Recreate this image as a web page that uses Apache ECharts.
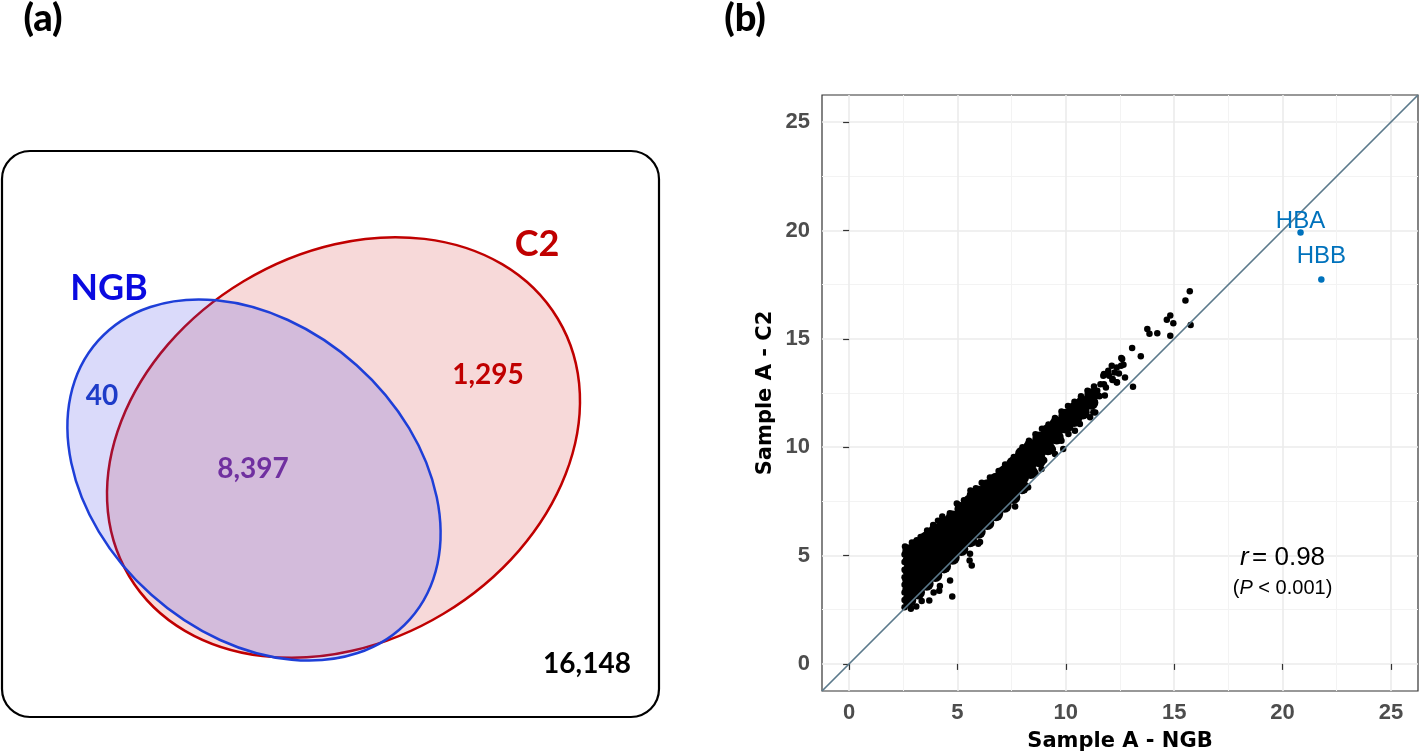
<!DOCTYPE html>
<html><head><meta charset="utf-8">
<script src="https://cdn.jsdelivr.net/npm/echarts@6/dist/echarts.min.js"></script>
<style>html,body{margin:0;padding:0;background:#fff}#c{width:1419px;height:754px}</style>
</head><body><div id="c"></div>
<script>
// ---------- data ----------
const panelLabels = ['(a)', '(b)'];
const vennSets = ['NGB', 'C2'];
const vennRegions = ['NGB only', 'NGB and C2', 'C2 only', 'neither'];
const vennCounts = [40, 8397, 1295, 16148];

const xTicks = [0, 5, 10, 15, 20, 25];
const yTicks = [0, 5, 10, 15, 20, 25];
const minorTicks = [2.5, 7.5, 12.5, 17.5, 22.5];
const axisMin = -1.25, axisMax = 26.25;
const xTitle = 'Sample A - NGB';
const yTitle = 'Sample A - C2';

// dense body of the cloud, read column by column: [x, [y values]]
const denseCols = [
  [2.78, [2.95, 3.4, 3.85, 4.3, 4.75, 5.2]],
  [3.18, [3.3, 3.75, 4.2, 4.65, 5.1, 5.5]],
  [3.58, [3.7, 4.15, 4.6, 5.05, 5.5, 5.8]],
  [3.98, [4.1, 4.55, 5.0, 5.45, 5.9, 6.15]],
  [4.38, [4.5, 4.95, 5.4, 5.85, 6.3, 6.5]],
  [4.78, [4.9, 5.35, 5.8, 6.25, 6.75]],
  [5.18, [5.3, 5.75, 6.2, 6.65, 7.15]],
  [5.58, [5.7, 6.15, 6.6, 7.05, 7.5]],
  [5.98, [6.1, 6.55, 7.0, 7.45, 7.9]],
  [6.38, [6.5, 6.95, 7.4, 7.85, 8.2]],
  [6.78, [6.9, 7.35, 7.8, 8.25, 8.5]],
  [7.18, [7.3, 7.75, 8.2, 8.65, 8.85]],
  [7.58, [7.7, 8.15, 8.6, 9.05, 9.25]],
  [7.98, [8.15, 8.6, 9.05, 9.5, 9.7]],
  [8.38, [8.85, 9.3, 9.75, 10.05]],
  [8.78, [9.4, 9.8, 10.1, 10.4]],
  [9.18, [9.95, 10.35, 10.75]],
  [9.58, [10.45, 10.8, 11.1]],
  [9.98, [10.95, 11.2, 11.45]],
  [10.38, [11.25, 11.5, 11.75]],
  [10.78, [11.6, 11.85, 12.05]],
  [11.18, [12.05, 12.4]]
];
const leftEdgePoints = [[2.56,2.62],[2.56,2.95],[2.56,3.3],[2.56,3.65],[2.56,4.0],[2.56,4.35],[2.56,4.7],[2.56,5.05],[2.58,5.42]];
const upperEdgePoints = [[2.9,5.6],[3.12,5.7],[3.3,5.85],[3.6,6.15],[3.88,6.41],[4.1,6.6],[4.3,6.8],[4.65,6.95],[4.97,7.4],[5.04,7.34],[5.3,7.55],[5.58,7.81],[5.6,8.0],[5.85,8.1],[6.12,8.36],[6.5,8.6],[6.9,8.9],[7.2,9.2],[7.6,9.55],[8.0,10.0],[8.3,10.3],[8.6,10.6],[8.9,10.85],[9.2,11.05],[9.5,11.35],[9.8,11.65],[10.1,11.9],[10.4,12.1],[10.7,12.35],[11.0,12.6],[11.3,12.8]];
const lowerEdgePoints = [[2.85,2.55],[3.1,2.65],[3.35,2.9],[3.7,2.92],[3.9,3.3],[4.16,3.38],[4.19,3.6],[4.76,3.11],[4.66,3.85],[5.66,4.54],[5.56,4.77],[5.58,5.08],[5.96,5.54],[6.04,5.63],[6.96,6.95],[7.66,7.26],[8.2,8.2],[8.26,8.15],[8.5,8.9],[8.6,8.8],[8.88,8.99],[9.0,9.4],[9.27,9.99],[9.4,9.9],[9.5,9.68],[9.58,10.45],[9.8,10.3],[9.88,9.92],[10.12,10.61],[10.2,10.9],[10.42,10.76],[10.6,11.3],[10.65,11.07],[10.9,11.5],[11.12,11.38],[11.27,11.61],[11.36,11.6],[11.5,12.38],[11.8,12.38]];
const upperTailPoints = [[11.45,12.6],[11.6,12.9],[11.3,12.45],[11.55,12.35],[11.85,12.75],[11.76,12.9],[12.36,13.0],[13.1,12.79],[11.73,13.3],[11.96,13.53],[12.0,13.3],[12.15,13.1],[12.35,12.99],[12.25,13.45],[12.45,13.4],[12.12,13.76],[12.35,13.68],[12.55,13.76],[12.6,14.07],[12.73,13.22],[11.76,13.38],[12.16,13.15],[12.66,13.8],[12.56,14.11],[13.06,14.58],[13.46,14.2],[13.76,15.45],[13.86,15.23],[14.22,15.26],[14.82,15.14],[14.66,15.88],[14.82,16.08],[14.96,15.72],[15.52,16.77],[15.72,17.2],[15.76,15.64]];

const geneNames = ['HBA', 'HBB'];
const geneX = [20.83, 21.79];
const geneY = [19.91, 17.74];

const identityLine = [[axisMin, axisMin], [axisMax, axisMax]];
const rValue = 0.98;
const pThreshold = '0.001';

// ---------- build ----------
const densePts = [];
denseCols.forEach(c => c[1].forEach(y => densePts.push([c[0], y])));
const edgePts = leftEdgePoints.concat(upperEdgePoints, lowerEdgePoints, upperTailPoints);
const fmt = n => n.toLocaleString('en-US');

const tickFont = {fontFamily: 'Liberation Sans, Arial, sans-serif', fontWeight: 'bold', fontSize: 22, color: '#4D4D4D'};
const titleFont = {fontFamily: 'DejaVu Sans, sans-serif', fontWeight: 'bold', fontSize: 21, color: '#000'};
const vennFont = 'Lato, sans-serif';
const geneColor = '#0072BC';

function vennText(text, x, y, size, color) {
  return {type: 'text', x: x, y: y, z: 10, style: {text: text, fontFamily: vennFont, fontWeight: 'bold', fontSize: size, fill: color, align: 'center', verticalAlign: 'middle'}};
}

const chart = echarts.init(document.getElementById('c'), null, {renderer: 'canvas'});
chart.setOption({
  animation: false,
  backgroundColor: '#fff',
  grid: {left: 822, top: 95, width: 596, height: 596, show: true, borderColor: '#333', borderWidth: 1.2, backgroundColor: 'transparent', outerBoundsMode: 'none', containLabel: false},
  xAxis: [
    {type: 'value', min: axisMin, max: axisMax, name: xTitle, nameLocation: 'middle', nameGap: 40, nameTextStyle: titleFont,
     axisLine: {show: false}, axisTick: {show: true, length: 6, customValues: xTicks, lineStyle: {color: '#333', width: 1.2}},
     axisLabel: Object.assign({customValues: xTicks, margin: 11}, tickFont),
     splitLine: {show: true, lineStyle: {color: '#EBEBEB', width: 1.6}}},
    {type: 'value', min: axisMin, max: axisMax, axisLine: {show: false}, axisTick: {show: false, customValues: minorTicks},
     axisLabel: {show: false, customValues: minorTicks}, splitLine: {show: true, lineStyle: {color: '#F3F3F3', width: 1}}}
  ],
  yAxis: [
    {type: 'value', min: axisMin, max: axisMax, name: yTitle, nameLocation: 'middle', nameGap: 46, nameRotate: 90, nameTextStyle: titleFont,
     axisLine: {show: false}, axisTick: {show: true, length: 6, customValues: yTicks, lineStyle: {color: '#333', width: 1.2}},
     axisLabel: Object.assign({customValues: yTicks, margin: 12}, tickFont),
     splitLine: {show: true, lineStyle: {color: '#EBEBEB', width: 1.6}}},
    {type: 'value', min: axisMin, max: axisMax, axisLine: {show: false}, axisTick: {show: false, customValues: minorTicks},
     axisLabel: {show: false, customValues: minorTicks}, splitLine: {show: true, lineStyle: {color: '#F3F3F3', width: 1}}}
  ],
  series: [
    {type: 'scatter', name: 'genes (dense)', data: densePts, symbolSize: 14, itemStyle: {color: '#000', opacity: 1}, silent: true, z: 2},
    {type: 'scatter', name: 'genes', data: edgePts, symbolSize: 6.5, itemStyle: {color: '#000', opacity: 1}, silent: true, z: 2},
    {type: 'scatter', name: 'highlighted', symbolSize: 6.5, itemStyle: {color: geneColor, opacity: 1}, z: 4, silent: true,
     data: geneNames.map((n, i) => ({name: n, value: [geneX[i], geneY[i]],
       label: {show: true, position: 'inside', offset: i === 0 ? [0, -10.6] : [0, -22.7], formatter: '{b}',
               fontFamily: 'Liberation Sans, Arial, sans-serif', fontSize: 24, color: geneColor}}))},
    {type: 'line', name: 'y = x', data: identityLine, showSymbol: false, symbol: 'none', silent: true, z: 3,
     lineStyle: {color: '#5C7A8C', width: 1.7}},
    {type: 'scatter', name: 'annotation', symbolSize: 0, silent: true, z: 5, itemStyle: {opacity: 1},
     data: [
       {value: [20, 4.9], label: {show: true, position: 'inside', formatter: '{i|r} {n|= ' + rValue.toFixed(2) + '}',
         rich: {i: {fontStyle: 'italic', fontFamily: 'Liberation Sans, Arial, sans-serif', fontSize: 26, color: '#000'},
                n: {fontFamily: 'Liberation Sans, Arial, sans-serif', fontSize: 26, color: '#000'}}}},
       {value: [20, 3.48], label: {show: true, position: 'inside', formatter: '{n|(}{i|P}{n| < ' + pThreshold + ')}',
         rich: {i: {fontStyle: 'italic', fontFamily: 'Liberation Sans, Arial, sans-serif', fontSize: 20, color: '#000'},
                n: {fontFamily: 'Liberation Sans, Arial, sans-serif', fontSize: 20, color: '#000'}}}}
     ]}
  ],
  graphic: [
    {type: 'text', x: 43, y: 19, style: {text: panelLabels[0], fontFamily: vennFont, fontWeight: 900, fontSize: 38, fill: '#000', align: 'center', verticalAlign: 'middle'}},
    {type: 'text', x: 745, y: 19, style: {text: panelLabels[1], fontFamily: vennFont, fontWeight: 900, fontSize: 38, fill: '#000', align: 'center', verticalAlign: 'middle'}},
    {type: 'rect', shape: {x: 2, y: 151, width: 657, height: 566, r: 28}, style: {fill: 'none', stroke: '#000', lineWidth: 2.2}},
    {type: 'ellipse', x: 343.5, y: 447.5, rotation: 31 * Math.PI / 180, shape: {cx: 0, cy: 0, rx: 250, ry: 194},
     style: {fill: 'rgba(220,80,80,0.22)', stroke: '#C00000', lineWidth: 2.5}},
    {type: 'ellipse', x: 254, y: 480, rotation: -41.8 * Math.PI / 180, shape: {cx: 0, cy: 0, rx: 209, ry: 154},
     style: {fill: 'rgba(70,70,230,0.2)', stroke: '#1E3FD8', lineWidth: 2.5}},
    vennText(vennSets[0], 109, 288, 36, '#0A0AE0'),
    vennText(vennSets[1], 537, 244, 36, '#C00000'),
    vennText(fmt(vennCounts[0]), 102, 396, 28, '#1E3CC8'),
    vennText(fmt(vennCounts[1]), 253, 469, 28, '#7030A0'),
    vennText(fmt(vennCounts[2]), 488, 375, 28, '#C00000'),
    vennText(fmt(vennCounts[3]), 587, 664, 28, '#000')
  ]
});
</script>
</body></html>
